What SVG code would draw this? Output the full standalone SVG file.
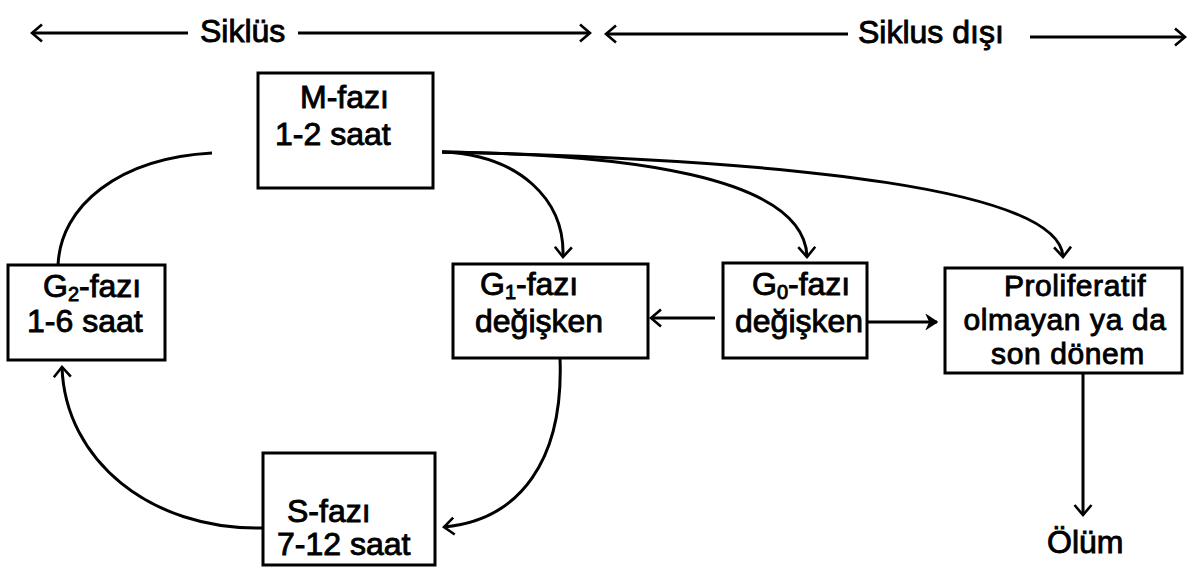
<svg xmlns="http://www.w3.org/2000/svg" width="1199" height="567" viewBox="0 0 1199 567">
<style>
.box{fill:#fff;stroke:#000;stroke-width:3}
.t{font-family:"Liberation Sans",Arial,sans-serif;font-weight:normal;font-size:32px;fill:#000;stroke:#000;stroke-width:0.9}
.p{font-size:30px;text-anchor:middle;letter-spacing:0.6px}
.sub{font-size:20px}
.c{fill:none;stroke:#000;stroke-width:3}
</style>
<defs>
<marker id="v" viewBox="-2 -10 14 20" refX="10" refY="0" markerWidth="14" markerHeight="20" markerUnits="userSpaceOnUse" orient="auto">
<path d="M0,-8.5 L10,0 L0,8.5" fill="none" stroke="#000" stroke-width="2.6"/>
</marker>
<marker id="f" viewBox="-2 -8 14 16" refX="10" refY="0" markerWidth="14" markerHeight="16" markerUnits="userSpaceOnUse" orient="auto">
<path d="M0,-6.5 L10,0 L0,6.5 L3,0 Z" fill="#000" stroke="#000" stroke-width="1.5"/>
</marker>
</defs>
<rect width="1199" height="567" fill="#fff"/>
<g id="top-labels">
<text class="t" x="200" y="42">Siklüs</text>
<text class="t" x="858" y="43">Siklus dışı</text>
</g>
<g id="connectors">
<path class="c" d="M188,33 L32,33" marker-end="url(#v)"/>
<path class="c" d="M298,33 L590,33" marker-end="url(#v)"/>
<path class="c" d="M848,34 L606,34" marker-end="url(#v)"/>
<path class="c" d="M1030,37 L1185,37" marker-end="url(#v)"/>
<path class="c" d="M212,153 C120,158 60,205 58,266"/>
<path class="c" d="M442,152 C520,155 565,200 563,257" marker-end="url(#v)"/>
<path class="c" d="M442,152 C620,154 805,175 807,257" marker-end="url(#v)"/>
<path class="c" d="M442,152 C800,160 1060,190 1063,257" marker-end="url(#v)"/>
<path class="c" d="M715,318 L651,318" marker-end="url(#v)"/>
<path class="c" d="M867,322 L937,322" marker-end="url(#f)"/>
<path class="c" d="M560,358 C564,460 520,520 444,527" marker-end="url(#v)"/>
<path class="c" d="M262,528 C150,530 65,460 62,367" marker-end="url(#v)"/>
<path class="c" d="M1083,373 L1083,515" marker-end="url(#v)"/>
</g>
<g id="m-fazi">
<rect class="box" x="258" y="73" width="175" height="115"/>
<text class="t" x="300" y="108">M-fazı</text>
<text class="t" x="275" y="145">1-2 saat</text>
</g>
<g id="g2-fazi">
<rect class="box" x="8" y="265" width="157" height="95"/>
<text class="t" x="43" y="297">G<tspan class="sub" dy="4">2</tspan><tspan dy="-4">-fazı</tspan></text>
<text class="t" x="27" y="332">1-6 saat</text>
</g>
<g id="g1-fazi">
<rect class="box" x="453" y="264" width="195" height="94"/>
<text class="t" x="480" y="295">G<tspan class="sub" dy="4">1</tspan><tspan dy="-4">-fazı</tspan></text>
<text class="t" x="475" y="332">değişken</text>
</g>
<g id="g0-fazi">
<rect class="box" x="723" y="263" width="144" height="95"/>
<text class="t" x="752" y="295">G<tspan class="sub" dy="4">0</tspan><tspan dy="-4">-fazı</tspan></text>
<text class="t" x="735" y="332">değişken</text>
</g>
<g id="proliferatif">
<rect class="box" x="945" y="268" width="237" height="105"/>
<text class="t p" x="1075" y="296">Proliferatif</text>
<text class="t p" x="1065" y="330">olmayan ya da</text>
<text class="t p" x="1068" y="364">son dönem</text>
</g>
<g id="s-fazi">
<rect class="box" x="263" y="453" width="172" height="112"/>
<text class="t" x="287" y="522">S-fazı</text>
<text class="t" x="277" y="555">7-12 saat</text>
</g>
<g id="olum">
<text class="t" x="1047" y="553">Ölüm</text>
</g>
</svg>
